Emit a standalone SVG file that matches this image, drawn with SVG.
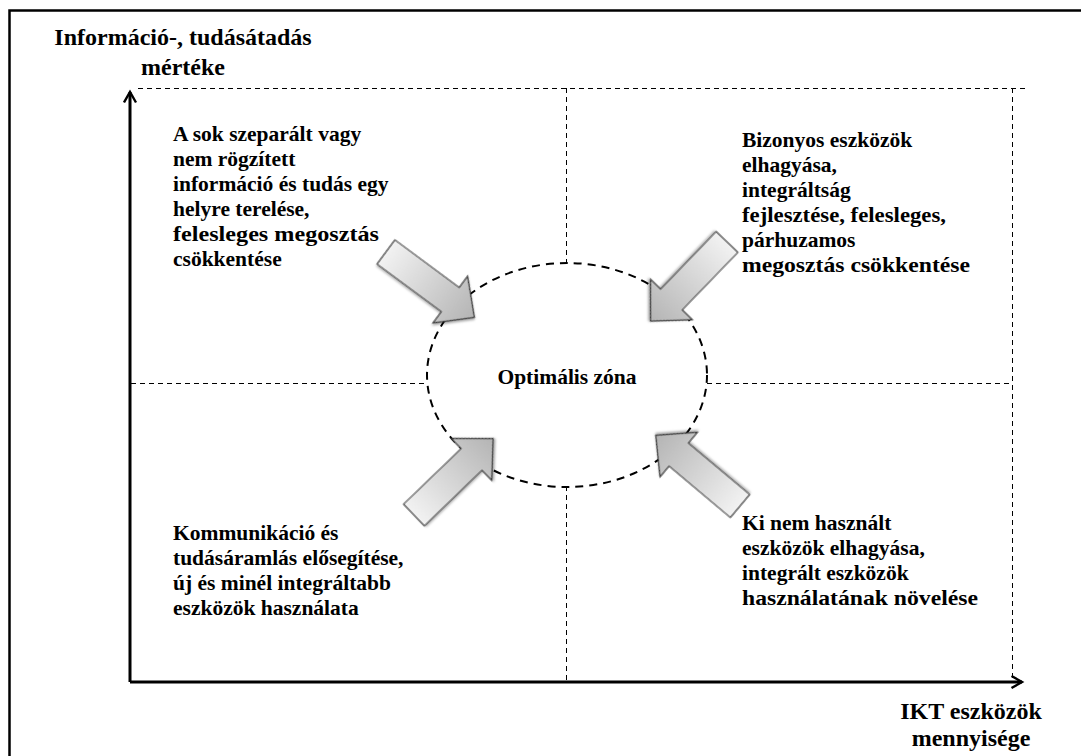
<svg xmlns="http://www.w3.org/2000/svg" width="1081" height="756" viewBox="0 0 1081 756">
  <style>
    text { font-family: 'Liberation Serif', 'Times New Roman', Times, serif; font-weight: 700; font-size: 21.5px; fill: #000; }
    .ax { font-size: 24px; }
    .grid { fill: none; stroke: #000; stroke-width: 1; stroke-dasharray: 5 4; }
    .axis { fill: none; stroke: #000; stroke-width: 3; }
    .zone { fill: none; stroke: #000; stroke-width: 2; stroke-dasharray: 8 6; }
    .blk { fill: url(#blkGrad); stroke: #3a3a3a; stroke-width: 1.2; filter: url(#soft); }
  </style>
  <defs>
    <linearGradient id="blkGrad" x1="0" y1="0" x2="1" y2="0">
      <stop offset="0" stop-color="#f2f2f2"/>
      <stop offset="1" stop-color="#b4b4b4"/>
    </linearGradient>
    <filter id="soft" x="-20%" y="-20%" width="140%" height="140%">
      <feDropShadow dx="1" dy="1.5" stdDeviation="1.2" flood-color="#000" flood-opacity="0.35"/>
    </filter>
    <marker id="head" viewBox="0 0 10 10" refX="8" refY="5" markerWidth="5" markerHeight="5" orient="auto" markerUnits="strokeWidth">
      <path d="M1,1 L8,5 L1,9" fill="none" stroke="#000" stroke-width="1.6"/>
    </marker>
    <!-- block arrow pointing along +x, tail at origin -->
    <polygon id="blockArrow" points="0,-15 80,-15 80,-29 110,0 80,29 80,15 0,15"/>
  </defs>

  <rect x="0" y="0" width="1081" height="756" fill="#fff"/>

  <!-- outer frame (top and left edges) -->
  <path d="M9.5,760 L9.5,10.5 L1090,10.5" fill="none" stroke="#000" stroke-width="2.5"/>

  <!-- quadrant grid -->
  <g id="grid">
    <path class="grid" d="M138,88.5 H1028"/>
    <path class="grid" d="M1012.5,88 V680"/>
    <path class="grid" d="M566.5,88 V268"/>
    <path class="grid" d="M566.5,486 V680"/>
    <path class="grid" d="M131,383.5 H427"/>
    <path class="grid" d="M707,383.5 H1012"/>
  </g>

  <!-- axes -->
  <g id="axes">
    <path class="axis" d="M130,682 V92" marker-end="url(#head)"/>
    <path class="axis" d="M130,682 H1022" marker-end="url(#head)"/>
  </g>

  <g font-family="'Liberation Serif', 'Times New Roman', serif" font-weight="bold">
    <!-- axis titles -->
    <g id="y-axis-title">
      <text class="ax" x="183" y="45" text-anchor="middle">Információ-, tudásátadás</text>
      <text class="ax" x="183" y="75" text-anchor="middle">mértéke</text>
    </g>
    <g id="x-axis-title">
      <text class="ax" x="971" y="719" text-anchor="middle">IKT eszközök</text>
      <text class="ax" x="971" y="746" text-anchor="middle">mennyisége</text>
    </g>

    <!-- optimal zone -->
    <g id="zone">
      <ellipse class="zone" cx="567" cy="375" rx="140" ry="112"/>
      <text x="567" y="384" text-anchor="middle">Optimális zóna</text>
    </g>

    <!-- quadrant texts -->
    <g id="q-top-left">
      <text x="173" y="141">A sok szeparált vagy</text>
      <text x="173" y="166">nem rögzített</text>
      <text x="173" y="191">információ és tudás egy</text>
      <text x="173" y="216">helyre terelése,</text>
      <text x="173" y="241" textLength="206" lengthAdjust="spacingAndGlyphs">felesleges megosztás</text>
      <text x="173" y="266">csökkentése</text>
    </g>
    <g id="q-top-right">
      <text x="742" y="147">Bizonyos eszközök</text>
      <text x="742" y="172">elhagyása,</text>
      <text x="742" y="197">integráltság</text>
      <text x="742" y="222" textLength="204" lengthAdjust="spacingAndGlyphs">fejlesztése, felesleges,</text>
      <text x="742" y="247">párhuzamos</text>
      <text x="742" y="272" textLength="228" lengthAdjust="spacingAndGlyphs">megosztás csökkentése</text>
    </g>
    <g id="q-bottom-left">
      <text x="173" y="540">Kommunikáció és</text>
      <text x="173" y="565">tudásáramlás elősegítése,</text>
      <text x="173" y="590">új és minél integráltabb</text>
      <text x="173" y="615">eszközök használata</text>
    </g>
    <g id="q-bottom-right">
      <text x="742" y="530">Ki nem használt</text>
      <text x="742" y="555">eszközök elhagyása,</text>
      <text x="742" y="580">integrált eszközök</text>
      <text x="742" y="605" textLength="236" lengthAdjust="spacingAndGlyphs">használatának növelése</text>
    </g>
  </g>

  <!-- block arrows pointing into the zone -->
  <g id="arrows">
    <use href="#blockArrow" class="blk" transform="translate(386,252) rotate(36.5)"/>
    <use href="#blockArrow" class="blk" transform="translate(727,242) rotate(134)"/>
    <use href="#blockArrow" class="blk" transform="translate(414,515) rotate(-44)"/>
    <use href="#blockArrow" class="blk" transform="translate(740,506) rotate(220)"/>
  </g>
</svg>
